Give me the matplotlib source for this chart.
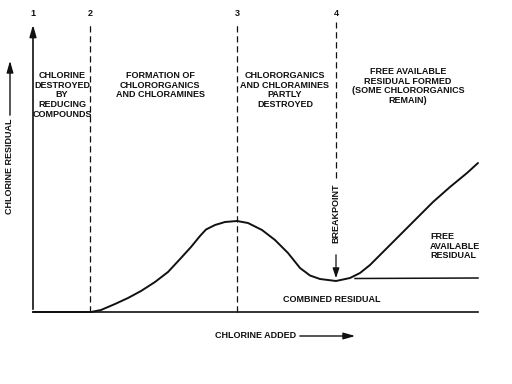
import numpy as np
import matplotlib
matplotlib.use("Agg")
import matplotlib.pyplot as plt

# curve: chlorine added vs chlorine residual (arbitrary units)
added = [0, 58, 68, 82, 95, 108, 122, 135, 148, 158, 167, 173, 182, 192, 204,
         215, 229, 242, 255, 267, 277, 287, 303, 317, 327, 337, 350, 367, 384,
         400, 417, 434, 445]
residual = [0, 0, 2, 8, 14, 21, 30, 40, 54, 65, 76, 82.5, 87, 90, 91,
            89, 82, 72, 59, 44, 36.5, 33, 31, 34, 39, 47, 60, 77, 94,
            110, 125, 139, 149]

# combined residual level after breakpoint
combined_x = [322, 445]
combined_y = [33.5, 34]

# zone boundaries (numbered 1..4)
zone_x = [0, 57, 204, 303]
zone_nums = ["1", "2", "3", "4"]
zone_text = [
    "CHLORINE\nDESTROYED\nBY\nREDUCING\nCOMPOUNDS",
    "FORMATION OF\nCHLORORGANICS\nAND CHLORAMINES",
    "CHLORORGANICS\nAND CHLORAMINES\nPARTLY\nDESTROYED",
    "FREE AVAILABLE\nRESIDUAL FORMED\n(SOME CHLORORGANICS\nREMAIN)",
]
zone_text_x = [29, 127, 252, 375]
zone_text_y = [241, 241, 241, 245]

top = 290
fs = 6.5
font = dict(family="Liberation Sans", fontweight="bold", fontsize=fs, color="#111111")

fig = plt.figure(figsize=(5.12, 3.84), dpi=100)
ax = fig.add_axes([0, 0, 1, 1])
ax.set_xlim(-33, 479)
ax.set_ylim(-72, 312)
ax.axis("off")

ink = "#111111"

# baseline and curve
ax.plot([0, 445], [0, 0], color=ink, lw=1.2)
ax.plot(added, residual, color=ink, lw=1.4, solid_joinstyle="round", solid_capstyle="round")
ax.plot(combined_x, combined_y, color=ink, lw=1.1)

# y axis with arrow
ax.annotate("", xy=(0, top), xytext=(0, 0),
            arrowprops=dict(arrowstyle="-|>,head_length=0.7,head_width=0.2", color=ink, lw=1.2))

# dashed zone lines
for x in zone_x[1:3]:
    ax.plot([x, x], [0, top], color=ink, lw=0.9, ls=(0, (5, 3)))
ax.plot([zone_x[3]] * 2, [134, top], color=ink, lw=0.9, ls=(0, (5, 3)))
ax.annotate("", xy=(zone_x[3], 31), xytext=(zone_x[3], 60),
            arrowprops=dict(arrowstyle="-|>,head_length=0.6,head_width=0.2", color=ink, lw=0.9))

for x, n in zip(zone_x, zone_nums):
    ax.text(x, 298, n, ha="center", va="center", **font)
for x, y, t in zip(zone_text_x, zone_text_y, zone_text):
    ax.text(x, y, t, ha="center", va="top", multialignment="center", linespacing=1.1, **font)

ax.text(zone_x[3], 99, "BREAKPOINT", rotation=90, ha="center", va="center", **font)
ax.text(397, 80, "FREE\nAVAILABLE\nRESIDUAL", ha="left", va="top", linespacing=1.1, **font)
ax.text(299, 13, "COMBINED RESIDUAL", ha="center", va="center", **font)

# axis titles with arrows
ax.text(182, -24, "CHLORINE ADDED", ha="left", va="center", **font)
ax.annotate("", xy=(325, -24), xytext=(264, -24),
            arrowprops=dict(arrowstyle="-|>,head_length=0.7,head_width=0.2", color=ink, lw=1.0))
ax.text(-23, 146, "CHLORINE RESIDUAL", rotation=90, ha="center", va="center", **font)
ax.annotate("", xy=(-23, 254), xytext=(-23, 194),
            arrowprops=dict(arrowstyle="-|>,head_length=0.7,head_width=0.2", color=ink, lw=1.0))

fig.savefig("out.png", dpi=100, facecolor="white")
